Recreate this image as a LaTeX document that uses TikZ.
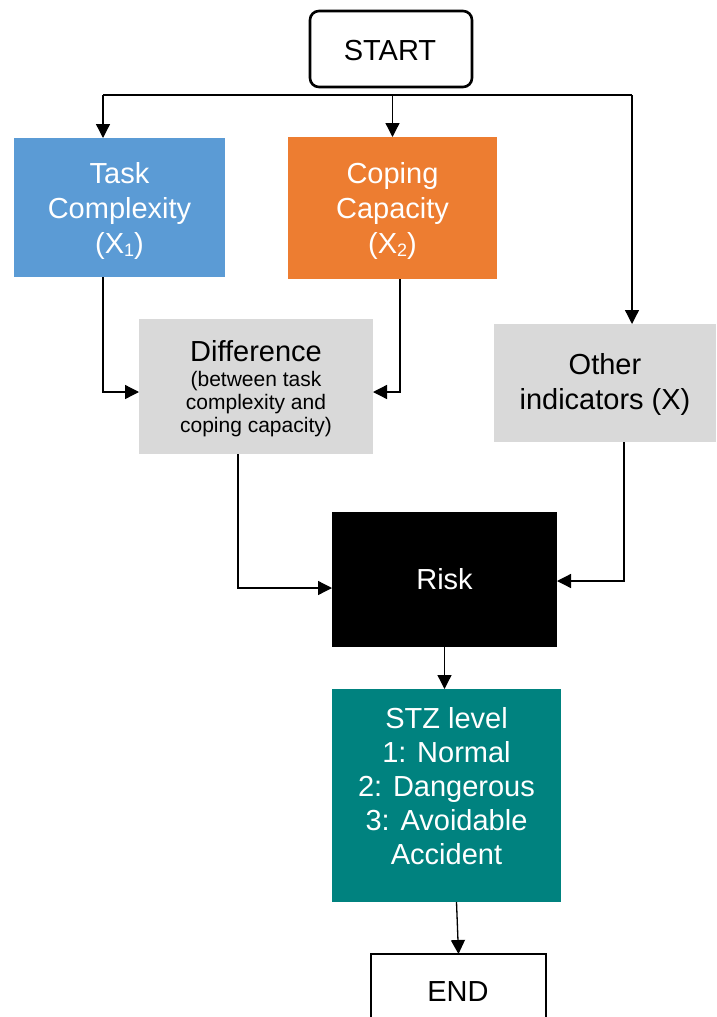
\documentclass[tikz,border=0pt]{standalone}
\usepackage{fontspec}
\setmainfont{Liberation Sans}
\usetikzlibrary{arrows.meta,calc}

\definecolor{taskblue}{HTML}{5B9BD5}
\definecolor{copeorange}{HTML}{ED7D31}
\definecolor{panelgray}{HTML}{D9D9D9}
\definecolor{stzteal}{HTML}{00827F}

\newcommand{\lowidx}[1]{\raisebox{-0.12em}{\fontsize{18}{18}\selectfont #1}}

\tikzset{
  box/.style={rectangle, inner sep=0pt, outer sep=0pt, align=center,
    font=\fontsize{29}{35}\selectfont},
  label/.style={inner sep=0pt, outer sep=0pt, align=center},
  terminal/.style={box, draw=black, line width=2.6pt, fill=white},
  arr/.style={-{Triangle[length=14pt,width=14pt]}, line width=1.3pt},
  wire/.style={line width=1.3pt},
}

\begin{document}
\begin{tikzpicture}[x=1pt,y=-1pt]
\useasboundingbox (0,0) rectangle (716,1017);
\clip (0,0) rectangle (716,1017);

% terminals
\node[terminal, rounded corners=9pt, minimum width=162pt, minimum height=76pt]
  (start) at (391,49) {};
\node[label, font=\fontsize{29}{35}\selectfont] (starttxt) at (390,51) {START};
\node[terminal, minimum width=175pt, minimum height=110pt]
  (end) at (458.5,1009) {};
\node[label, font=\fontsize{29}{35}\selectfont] (endtxt) at (458,992) {END};

% input factors
\node[box, fill=taskblue, minimum width=211pt, minimum height=139pt]
  (task) at (119.5,207.5) {};
\node[label, text=white, font=\fontsize{29}{35}\selectfont]
  (tasktxt) at (119.5,211) {Task\\Complexity\\(X\lowidx{1})};
\node[box, fill=copeorange, minimum width=209pt, minimum height=142pt]
  (coping) at (392.5,208) {};
\node[label, text=white, font=\fontsize{29}{35}\selectfont]
  (copingtxt) at (392.5,211) {Coping\\Capacity\\(X\lowidx{2})};

% derived quantities
\node[box, fill=panelgray, minimum width=234pt, minimum height=135pt]
  (diff) at (256,386.5) {};
\node[label, font=\fontsize{29}{35}\selectfont, anchor=base]
  (diffhead) at (256,361) {Difference};
\node[label, font=\fontsize{21}{23}\selectfont]
  (diffnote) at (256,404) {(between task\\complexity and\\coping capacity)};
\node[box, fill=panelgray, minimum width=222pt, minimum height=118pt]
  (other) at (605,383) {};
\node[label, font=\fontsize{29}{35}\selectfont]
  (othertxt) at (605,384.5) {Other\\indicators (X)};

\node[box, fill=black, text=white, minimum width=225pt, minimum height=135pt]
  (risk) at (444.5,579.5) {Risk};
\node[box, fill=stzteal, minimum width=229pt, minimum height=213pt]
  (stz) at (446.5,795.5) {};
\node[label, text=white, font=\fontsize{29}{34}\selectfont]
  (stztxt) at (446.5,786) {STZ level\\1: Normal\\2: Dangerous\\3: Avoidable\\Accident};

% distribution bus below START
\coordinate (busL) at (103,95);
\coordinate (busR) at (632,95);
\draw[wire] (busL) -- (busR);
\draw[arr] (busL) -- (busL |- task.north);
\draw[arr] (coping.north |- busL) -- (coping.north);
\draw[arr] (busR) -- (busR |- other.north);

% into the difference box
\draw[arr] (busL |- task.south) |- ([yshift=-5.5pt]diff.west);
\draw[arr] ([xshift=7.5pt]coping.south) |- ([yshift=-5.5pt]diff.east);

% into risk
\draw[arr] ([xshift=-18pt]diff.south) |- ([yshift=-8.5pt]risk.west);
\draw[arr] ([xshift=19pt]other.south) |- ([yshift=-1.5pt]risk.east);

% downstream
\draw[arr] (risk.south) -- (risk.south |- stz.north);
\draw[arr] ([xshift=10pt]stz.south) -- (end.north);
\end{tikzpicture}
\end{document}
